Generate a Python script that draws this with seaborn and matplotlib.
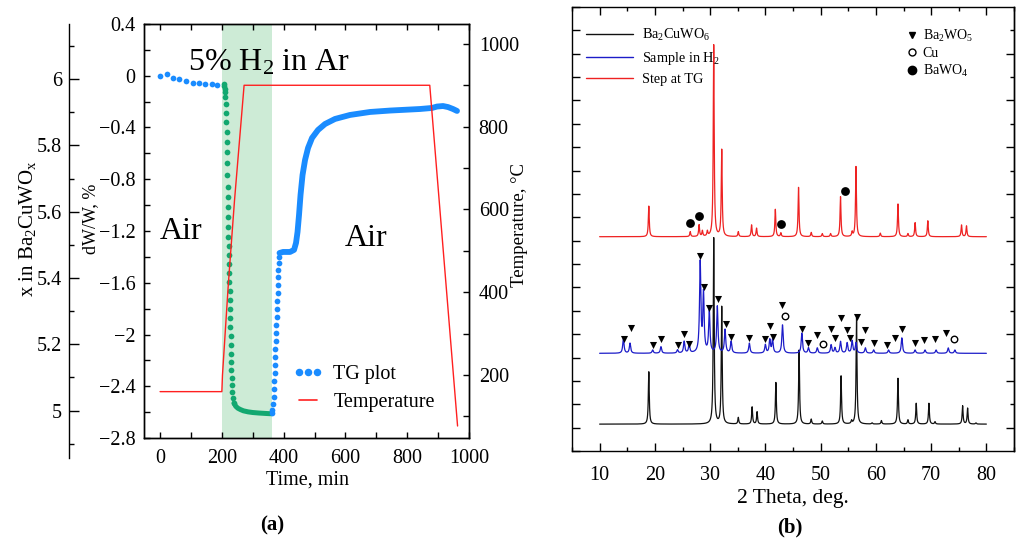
import numpy as np
import matplotlib
matplotlib.use("Agg")
import matplotlib.pyplot as plt
import seaborn as sns
from matplotlib.lines import Line2D
from matplotlib.ticker import MultipleLocator, FixedLocator

# ---------------- (a) thermogravimetry ----------------
# first air segment (sparse logging)
air1_time = [0.0, 21.7, 41.1, 62.5, 84.1, 105.8, 125.2, 145.6, 167.3, 185.4]
air1_dw = [-0.002, 0.013, -0.015, -0.027, -0.038, -0.054, -0.058, -0.064, -0.066, -0.069]

# 5% H2 in Ar: fast mass loss, then flat
h2_drop_time = [207.1, 208.1, 209.4, 210.4, 211.3, 212.6, 213.6, 214.6, 215.2, 215.9,
                216.5, 217.2, 217.8, 218.4, 218.8, 219.4, 220.1, 220.7, 221.4, 222.0,
                222.6, 223.3, 223.9, 224.6, 225.2, 225.9, 226.5, 227.2, 227.8, 228.5,
                229.1, 229.8, 230.4, 231.1, 231.7, 232.4, 233.7, 235.6, 239.5]
h2_drop_dw = [-0.064, -0.083, -0.102, -0.126, -0.164, -0.218, -0.288, -0.358, -0.435, -0.512,
              -0.589, -0.674, -0.767, -0.860, -0.937, -1.014, -1.092, -1.169, -1.246, -1.316,
              -1.386, -1.455, -1.525, -1.594, -1.664, -1.733, -1.803, -1.873, -1.942, -2.012,
              -2.081, -2.151, -2.213, -2.275, -2.337, -2.391, -2.445, -2.491, -2.530]
h2_flat_time = [239.5, 245, 252, 260, 270, 285, 300, 320, 340, 355, 362]
h2_flat_dw = [-2.53, -2.555, -2.57, -2.58, -2.59, -2.598, -2.603, -2.607, -2.61, -2.612, -2.612]

# back in air: re-oxidation
air2_rise_time = [362.3, 363.4, 365.5, 367.2, 368.6, 369.6, 370.6, 371.5, 372.5, 373.5, 374.4,
                  375.4, 376.4, 377.3, 378.3, 379.3, 380.3, 381.2, 382.2, 383.2, 384.1, 385.1]
air2_rise_dw = [-2.605, -2.584, -2.537, -2.483, -2.421, -2.359, -2.298, -2.236, -2.174, -2.112,
                -2.050, -1.989, -1.927, -1.865, -1.803, -1.741, -1.679, -1.618, -1.556, -1.502,
                -1.448, -1.401]
air2_time = [386.7, 398.1, 420.7, 433.7, 440.1, 445.0, 449.8, 454.7, 461.2, 469.3, 479.0,
             491.9, 511.3, 534.0, 566.3, 614.9, 679.6, 744.3, 841.4, 880.3, 896.4, 915.9,
             932.0, 948.2, 961.2]
air2_dw = [-1.370, -1.362, -1.362, -1.346, -1.292, -1.207, -1.076, -0.921, -0.767, -0.651,
           -0.558, -0.481, -0.419, -0.373, -0.334, -0.303, -0.280, -0.269, -0.257, -0.249,
           -0.238, -0.234, -0.242, -0.257, -0.272]

# furnace programme
temp_time = [0, 200, 202, 221, 241, 272, 873, 963]
temp_c = [160, 160, 200, 420, 622, 900, 900, 77]

h2_window = (200, 362)

# ---------------- (b) X-ray diffraction ----------------
black_base = 1.15
black_pos = [18.9, 30.65, 32.1, 35.1, 37.6, 38.5, 41.9, 46.1, 48.3, 50.3, 53.7, 55.6, 56.5,
             59.3, 61.0, 64.0, 65.8, 67.3, 69.6, 70.7, 75.7, 76.6, 78.1]
black_top = [3.39, 9.11, 6.16, 1.43, 1.88, 1.67, 2.93, 4.32, 1.36, 1.28, 3.21, 1.28, 5.69,
             1.20, 1.30, 3.11, 1.33, 2.04, 2.04, 1.25, 1.93, 1.83, 1.20]

blue_base = 4.18
blue_pos = [14.3, 15.5, 19.6, 21.1, 24.1, 25.3, 26.2, 28.2, 28.8, 29.85, 31.3, 32.7, 33.8,
            37.1, 40.0, 40.8, 41.3, 43.1, 46.6, 47.8, 49.4, 51.9, 52.6, 53.6, 54.8, 55.7,
            56.4, 58.1, 59.6, 62.3, 64.7, 67.1, 68.9, 70.9, 73.1, 74.3]
blue_top = [4.82, 4.61, 4.32, 4.46, 4.32, 4.68, 4.54, 8.03, 6.68, 5.99, 6.17, 5.18, 4.68,
            4.61, 4.54, 4.75, 4.75, 5.39, 5.04, 4.41, 4.41, 4.54, 4.41, 4.68, 4.62, 4.71,
            4.62, 4.41, 4.32, 4.32, 4.84, 4.32, 4.32, 4.32, 4.41, 4.32]

red_base = 9.17
red_pos = [18.9, 26.4, 28.0, 28.6, 29.5, 30.65, 32.1, 35.1, 37.5, 38.4, 41.8, 42.8, 46.0,
           48.3, 50.3, 51.8, 53.6, 55.7, 56.4, 60.8, 64.0, 65.8, 67.1, 69.4, 75.5, 76.4]
red_top = [10.48, 9.38, 9.67, 9.41, 9.38, 17.37, 12.88, 9.38, 9.67, 9.53, 10.34, 9.33, 11.28,
           9.35, 9.30, 9.30, 10.88, 9.36, 12.17, 9.32, 10.57, 9.30, 9.77, 9.85, 9.67, 9.63]

# phase marks
ba2wo5_pos = [14.38, 15.59, 19.62, 21.13, 24.13, 25.33, 26.24, 28.17, 28.82, 29.84, 31.34,
              32.86, 33.76, 37.06, 39.95, 40.80, 41.39, 43.07, 46.68, 47.76, 49.38, 51.80,
              52.58, 53.60, 54.69, 55.28, 56.60, 57.32, 58.11, 59.61, 62.01, 63.53, 64.72,
              67.01, 68.76, 70.74, 72.73]
ba2wo5_y = [4.78, 5.25, 4.54, 4.78, 4.54, 5.01, 4.57, 8.34, 7.03, 6.13, 6.50, 5.42, 4.89,
            4.82, 4.78, 5.35, 4.89, 6.25, 5.22, 4.63, 4.96, 5.21, 4.82, 5.68, 5.18, 4.82,
            5.75, 4.68, 5.18, 4.61, 4.54, 4.82, 5.22, 4.61, 4.75, 4.78, 5.04]
cu_pos = [43.50, 50.47, 74.17]
cu_y = [5.79, 4.57, 4.78]
bawo4_pos = [26.36, 28.04, 42.89, 54.38]
bawo4_y = [9.74, 10.07, 9.70, 11.14]

# ---------------- styling ----------------
sns.set_theme(style="ticks")
plt.rcParams.update({
    "font.family": ["Liberation Serif", "DejaVu Serif"],
    "mathtext.fontset": "custom",
    "mathtext.rm": "Liberation Serif",
    "mathtext.it": "Liberation Serif:italic",
    "mathtext.bf": "Liberation Serif:bold",
    "axes.edgecolor": "black",
    "axes.linewidth": 1.0,
    "xtick.color": "black",
    "ytick.color": "black",
    "text.color": "black",
    "axes.labelcolor": "black",
})

TG_BLUE = "#1a8cff"
TG_GREEN = "#12a870"
SHADE = "#cdebd6"
TEMP_RED = "#ff2020"
XRD_BLACK = "#111111"
XRD_BLUE = "#1c1cc8"
XRD_RED = "#ee2222"
TICK_FS = 14.5

W, H = 1019, 542
fig = plt.figure(figsize=(W / 100, H / 100), dpi=100)


def box(left, top, right, bottom):
    return [left / W, 1 - bottom / H, (right - left) / W, (bottom - top) / H]


ax_tg = fig.add_axes(box(144, 24, 469, 438))
ax_temp = ax_tg.twinx()
ax_x = fig.add_axes(box(69, 24, 70, 458))
ax_xrd = fig.add_axes(box(572, 7, 1014, 451))

# ---- panel (a) ----
ax_tg.axvspan(*h2_window, color=SHADE, lw=0, zorder=0)
line_kw = dict(estimator=None, sort=False, ax=ax_tg, legend=False)
sns.lineplot(x=h2_flat_time, y=h2_flat_dw, color=TG_GREEN, linewidth=3.6,
             solid_capstyle="round", zorder=3, **line_kw)
sns.lineplot(x=air2_time, y=air2_dw, color=TG_BLUE, linewidth=4.2,
             solid_capstyle="round", zorder=3, **line_kw)
dot_kw = dict(ax=ax_tg, s=17, linewidth=0, zorder=4, legend=False)
sns.scatterplot(x=air1_time, y=air1_dw, color=TG_BLUE, **dot_kw)
sns.scatterplot(x=h2_drop_time, y=h2_drop_dw, color=TG_GREEN, **dot_kw)
sns.scatterplot(x=air2_rise_time, y=air2_rise_dw, color=TG_BLUE, **dot_kw)

sns.lineplot(x=temp_time, y=temp_c, color=TEMP_RED, linewidth=1.0, estimator=None,
             sort=False, ax=ax_temp, legend=False)

ax_tg.set_xlim(-52, 1000)
ax_tg.set_ylim(-2.8, 0.4)
ax_temp.set_ylim(48, 1048)
ax_tg.xaxis.set_major_locator(MultipleLocator(200))
ax_tg.xaxis.set_minor_locator(MultipleLocator(100))
ax_tg.yaxis.set_major_locator(MultipleLocator(0.4))
ax_tg.yaxis.set_minor_locator(MultipleLocator(0.2))
ax_temp.yaxis.set_major_locator(MultipleLocator(200))
ax_temp.yaxis.set_minor_locator(MultipleLocator(100))
ax_tg.yaxis.set_major_formatter(lambda v, p: f"{v:g}".replace("-", "\u2212"))
ax_tg.tick_params(which="both", direction="in", top=True, right=False, length=4,
                  width=1.0, labelsize=TICK_FS)
ax_tg.tick_params(axis="x", pad=8)
ax_tg.tick_params(axis="y", pad=6)
ax_temp.tick_params(which="both", direction="in", length=4, width=1.0,
                    labelsize=TICK_FS, pad=7)
ax_tg.set_xlabel("")
ax_tg.set_ylabel("")
ax_temp.set_ylabel("")

# auxiliary oxygen-content scale
ax_x.set_ylim(4.857, 6.166)
ax_x.patch.set_visible(False)
for side in ("top", "right", "bottom"):
    ax_x.spines[side].set_visible(False)
ax_x.set_xticks([])
ax_x.yaxis.set_major_locator(MultipleLocator(0.2))
ax_x.yaxis.set_minor_locator(MultipleLocator(0.1))
ax_x.yaxis.set_major_formatter(lambda v, p: f"{v:g}")
ax_x.tick_params(axis="y", which="major", direction="in", length=7, width=1.0,
                 labelsize=TICK_FS, pad=5)
ax_x.tick_params(axis="y", which="minor", direction="in", length=3.5, width=1.0)

ax_tg.text(90, 0.037, "5% H$_2$ in Ar", fontsize=23, ha="left", va="baseline", zorder=6)
ax_tg.text(0, -1.262, "Air", fontsize=23, ha="left", va="baseline", zorder=6)
ax_tg.text(599, -1.316, "Air", fontsize=23, ha="left", va="baseline", zorder=6)

tg_handles = [
    Line2D([], [], color=TG_BLUE, marker="o", linestyle="none", markersize=4.4),
    Line2D([], [], color=TEMP_RED, linewidth=1.2),
]
ax_temp.legend(tg_handles, ["TG plot", "Temperature"], loc="upper left",
               bbox_to_anchor=((293 - 144) / 325, (438 - 365) / 414), frameon=False,
               fontsize=14.5, numpoints=3, handlelength=1.5, handletextpad=0.5,
               labelspacing=0.42, borderpad=0, borderaxespad=0)

fig.text(28 / W, 1 - 229 / H, "x in Ba$_2$CuWO$_\\mathrm{x}$", rotation=90,
         ha="center", va="center", fontsize=15)
fig.text(91 / W, 1 - 219 / H, "dW/W, %", rotation=90, ha="center", va="center",
         fontsize=13)
fig.text(520 / W, 1 - 225 / H, "Temperature, \u00b0C", rotation=90, ha="center",
         va="center", fontsize=13.5)
fig.text(307 / W, 1 - 480 / H, "Time, min", ha="center", va="center", fontsize=14.5)
fig.text(272 / W, 1 - 525 / H, "(a)", ha="center", va="center", fontsize=15,
         fontweight="bold")

# ---- panel (b) ----
two_theta = np.arange(10.0, 80.0001, 0.01)


def pattern(base, pos, top, hw):
    y = np.full_like(two_theta, base)
    for p, t in zip(pos, top):
        y += (t - base) * hw ** 2 / ((two_theta - p) ** 2 + hw ** 2)
    return y


xrd_kw = dict(estimator=None, sort=False, ax=ax_xrd, legend=False, linewidth=0.9)
sns.lineplot(x=two_theta, y=pattern(black_base, black_pos, black_top, 0.1),
             color=XRD_BLACK, **xrd_kw)
sns.lineplot(x=two_theta, y=pattern(blue_base, blue_pos, blue_top, 0.14),
             color=XRD_BLUE, **xrd_kw)
sns.lineplot(x=two_theta, y=pattern(red_base, red_pos, red_top, 0.1),
             color=XRD_RED, **xrd_kw)

sns.scatterplot(x=ba2wo5_pos, y=ba2wo5_y, marker="v", color="black", s=26,
                linewidth=0, ax=ax_xrd, zorder=5, legend=False)
sns.scatterplot(x=cu_pos, y=cu_y, marker="o", facecolor="white", edgecolor="black",
                s=22, linewidth=1.0, ax=ax_xrd, zorder=5, legend=False)
sns.scatterplot(x=bawo4_pos, y=bawo4_y, marker="o", color="black", s=40,
                linewidth=0, ax=ax_xrd, zorder=5, legend=False)

ax_xrd.set_xlim(5, 85)
ax_xrd.set_ylim(0, 19)
ax_xrd.xaxis.set_major_locator(MultipleLocator(10))
ax_xrd.xaxis.set_minor_locator(MultipleLocator(5))
ax_xrd.yaxis.set_major_locator(MultipleLocator(1))
ax_xrd.set_yticklabels([])
ax_xrd.tick_params(which="major", direction="in", top=True, right=False, length=5.5,
                   width=1.0, labelsize=TICK_FS)
ax_xrd.tick_params(which="minor", direction="in", top=True, length=3, width=1.0)
ax_xrd.tick_params(axis="x", pad=11)
ax_xrd.set_xlabel("")
ax_xrd.set_ylabel("")
sec = ax_xrd.secondary_yaxis("right")
sec.yaxis.set_major_locator(FixedLocator([1, 3, 5, 7, 9, 11, 13, 15, 17]))
sec.yaxis.set_minor_locator(FixedLocator([2, 4, 6, 8, 10, 12, 14, 16, 18]))
sec.tick_params(which="major", direction="in", length=5.5, width=1.0, labelright=False)
sec.tick_params(which="minor", direction="in", length=3, width=1.0)

xrd_handles = [Line2D([], [], color=XRD_BLACK, lw=1.0),
               Line2D([], [], color=XRD_BLUE, lw=1.0),
               Line2D([], [], color=XRD_RED, lw=1.0)]
leg1 = ax_xrd.legend(xrd_handles, ["Ba$_2$CuWO$_6$", "Sample in H$_2$", "Step at TG"],
                     loc="upper left", bbox_to_anchor=((586 - 572) / 442, (451 - 27) / 444),
                     frameon=False, fontsize=10.3, handlelength=3.3, handletextpad=0.6,
                     labelspacing=0.45, borderpad=0, borderaxespad=0)
ax_xrd.add_artist(leg1)
phase_handles = [
    Line2D([], [], color="black", marker="v", linestyle="none", markersize=5),
    Line2D([], [], markerfacecolor="white", markeredgecolor="black", marker="o",
           linestyle="none", markersize=5, markeredgewidth=1.0),
    Line2D([], [], color="black", marker="o", linestyle="none", markersize=6),
]
ax_xrd.legend(phase_handles, ["Ba$_2$WO$_5$", "Cu", "BaWO$_4$"], loc="upper left",
              bbox_to_anchor=((906 - 572) / 442, (451 - 28) / 444), frameon=False,
              fontsize=10, handlelength=0.8, handletextpad=0.4, labelspacing=0.2,
              borderpad=0, borderaxespad=0)

fig.text(793 / W, 1 - 498 / H, "2 Theta, deg.", ha="center", va="center", fontsize=15.5)
fig.text(790 / W, 1 - 527 / H, "(b)", ha="center", va="center", fontsize=15,
         fontweight="bold")

fig.savefig("out.png", dpi=100)
